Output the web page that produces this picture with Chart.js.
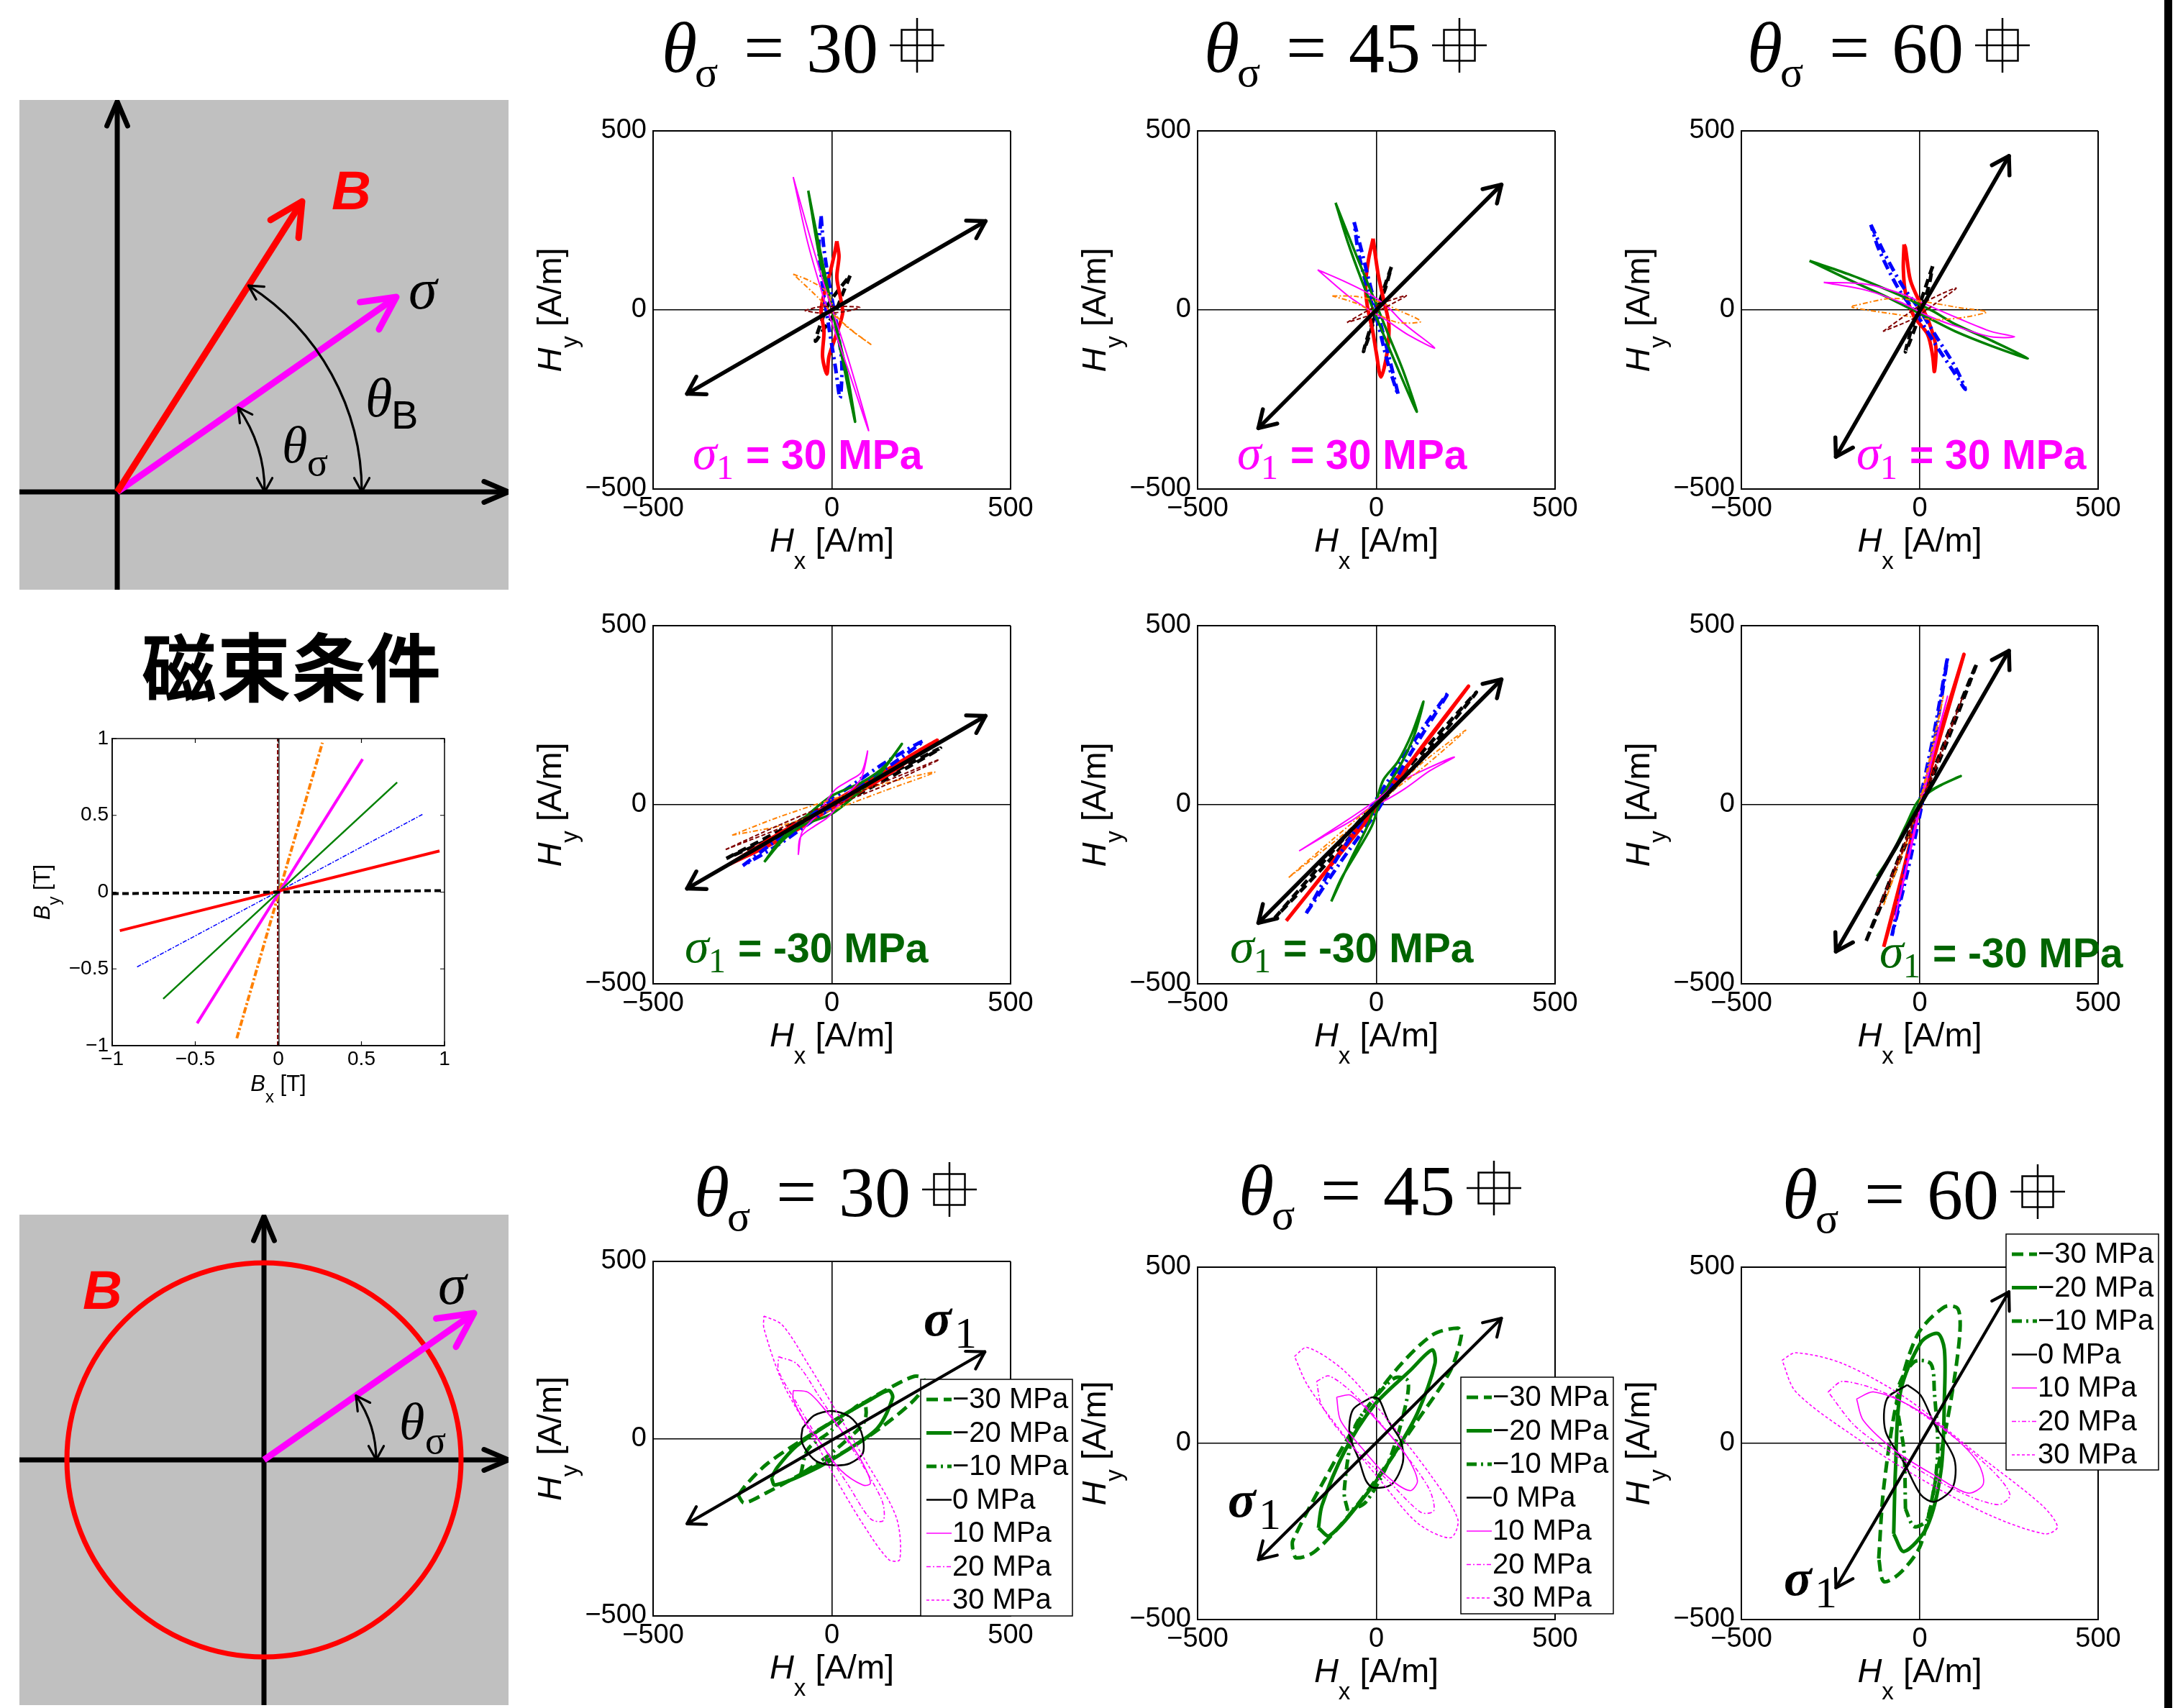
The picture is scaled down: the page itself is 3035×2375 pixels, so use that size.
<!DOCTYPE html>
<html><head><meta charset="utf-8">
<script src="https://cdn.jsdelivr.net/npm/chart.js@4.4.1/dist/chart.umd.min.js"></script>
<style>
html,body{margin:0;padding:0;background:#fff;}
#root{position:relative;width:3035px;height:2375px;overflow:hidden;background:#fff;}
#root canvas{position:absolute;}
#edge{position:absolute;left:3009px;top:0;width:11px;height:2375px;background:#000;}
</style></head>
<body><div id="root"><div id="edge"></div></div>
<script>
// ================= DATA =================
const H_TICKS = [-500, 0, 500];
const B_TICKS = [-1, -0.5, 0, 0.5, 1];
const THETA_SIGMA_LABELS = ['30', '45', '60'];
const THETA_B = [0, 15, 30, 45, 60, 75, 90];
const STRESS_LABELS = ['−30 MPa', '−20 MPa', '−10 MPa', '0 MPa', '10 MPa', '20 MPa', '30 MPa'];
const SIGMA1_TEXT = ['= 30 MPa', '= -30 MPa'];
const FLUX_TITLE = '磁束条件';

// flux-condition chart (Bx, By) [T], one line per thetaB
const B_tb0  = [[-1,-0.01],[1,0.01]];
const B_tb15 = [[-0.954,-0.251],[0.970,0.268]];
const B_tb30 = [[-0.85,-0.487],[0.867,0.506]];
const B_tb45 = [[-0.693,-0.695],[0.715,0.715]];
const B_tb60 = [[-0.489,-0.854],[0.507,0.866]];
const B_tb75 = [[-0.25,-0.952],[0.265,0.973]];
const B_tb90 = [[-0.004,-1],[-0.004,1]];
const B_vert = [[0.004,-1],[0.004,1]];

// schematic 1 (rotating-angle condition), units = diagram px
const D1_axisH = [[0,136],[680,136]];
const D1_axisV = [[136,0],[136,679]];
const D1_B     = [[136,136],[393,540]];
const D1_sigma = [[136,136],[524,407]];
// schematic 2 (rotating flux)
const D2_axisH = [[0,341],[680,341]];
const D2_axisV = [[340,0],[340,680]];
const D2_sigma = [[340,341],[632,545]];

// ---- Row 1: sigma1 = +30 MPa, Hx/Hy [A/m] loops per thetaB ----
const p11_tb0  = [[51,96],[30,45],[10,-5],[-20,-50],[-46,-87],[-30,-35],[-10,15],[22,60],[51,96]];
const p11_tb15 = [[14,192],[20,150],[14,90],[25,30],[30,-10],[12,-70],[-8,-130],[-14,-179],[-26,-130],[-22,-60],[-30,-5],[-24,35],[-6,100],[8,160],[14,192]];
const p11_tb30 = [[-30,262],[-22,170],[-5,60],[15,-50],[28,-150],[23,-246],[10,-160],[-8,-50],[-25,60],[-36,170],[-30,262]];
const p11_tb45 = [[-66,333],[-40,200],[-15,80],[5,-20],[30,-140],[65,-312],[45,-190],[20,-80],[-5,20],[-35,150],[-66,333]];
const p11_tb60 = [[-108,371],[-60,200],[-20,65],[10,-25],[50,-150],[103,-337],[45,-165],[5,-50],[-25,40],[-68,190],[-108,371]];
const p11_tb75 = [[-108,100],[-65,83],[-14,50],[14,-17],[46,-50],[109,-96],[60,-60],[0,-8],[-37,33],[-108,100]];
const p11_tb90 = [[-76,-2],[-40,8],[0,10],[40,10],[78,7],[40,-4],[0,-8],[-40,-8],[-76,-2]];
const p11_arrow = [[-405,-234],[430,248]];

const p12_tb0  = [[42,120],[22,62],[5,10],[-18,-55],[-36,-116],[-16,-60],[0,-5],[25,60],[42,120]];
const p12_tb15 = [[-9,199],[-22,140],[-30,70],[-25,10],[-10,-60],[0,-120],[13,-187],[30,-120],[35,-40],[20,30],[5,100],[-9,199]];
const p12_tb30 = [[-62,245],[-40,160],[-15,60],[15,-50],[40,-150],[61,-237],[30,-140],[5,-40],[-25,60],[-50,160],[-62,245]];
const p12_tb45 = [[-114,299],[-80,190],[-40,80],[0,-20],[50,-140],[113,-284],[75,-170],[30,-60],[-10,40],[-55,150],[-114,299]];
const p12_tb60 = [[-164,112],[-90,80],[-20,45],[30,10],[80,-40],[163,-106],[90,-70],[30,-30],[-20,0],[-80,40],[-164,112]];
const p12_tb75 = [[-123,39],[-60,38],[0,25],[60,0],[124,-32],[60,-35],[0,-10],[-60,20],[-123,39]];
const p12_tb90 = [[-82,-35],[-30,-5],[20,20],[84,40],[30,10],[-20,-15],[-82,-35]];
const p12_arrow = [[-330,-330],[350,350]];

const p13_tb0  = [[36,122],[15,60],[-5,0],[-25,-60],[-40,-117],[-15,-55],[5,5],[25,65],[36,122]];
const p13_tb15 = [[-44,183],[-46,115],[-40,48],[-16,-18],[22,-68],[36,-127],[41,-172],[45,-102],[26,-35],[3,15],[-26,82],[-40,173],[-44,183]];
const p13_tb30 = [[-137,238],[-100,160],[-50,70],[0,0],[50,-80],[100,-160],[128,-222],[90,-165],[40,-90],[-10,-10],[-60,60],[-115,170],[-137,238]];
const p13_tb45 = [[-309,137],[-200,100],[-100,60],[-20,25],[40,-5],[100,-40],[200,-85],[303,-135],[200,-100],[100,-60],[30,-25],[-30,5],[-100,40],[-200,85],[-309,137]];
const p13_tb60 = [[-269,77],[-150,72],[-50,45],[30,10],[100,-20],[200,-60],[266,-75],[200,-75],[100,-45],[20,-15],[-50,20],[-150,55],[-269,77]];
const p13_tb75 = [[-189,11],[-82,32],[12,23],[107,7],[187,-6],[60,-27],[-82,-10],[-189,7],[-189,11]];
const p13_tb90 = [[-103,-60],[-40,-15],[20,25],[102,61],[40,15],[-20,-25],[-103,-60]];
const p13_arrow = [[-235,-410],[250,430]];

// ---- Row 2: sigma1 = -30 MPa ----
const p21_tb0  = [[-295,-150],[-150,-75],[0,2],[150,80],[304,158],[150,70],[0,-8],[-150,-85],[-295,-150]];
const p21_tb15 = [[-286,-166],[-150,-82],[0,5],[150,95],[295,180],[150,80],[0,-10],[-150,-100],[-286,-166]];
const p21_tb30 = [[-249,-170],[-150,-95],[-50,-20],[50,50],[150,118],[256,178],[150,100],[50,28],[-50,-42],[-150,-112],[-249,-170]];
const p21_tb45 = [[-189,-160],[-148,-104],[-83,-42],[0,25],[83,62],[148,108],[196,170],[138,91],[74,33],[0,-25],[-83,-58],[-138,-100],[-189,-160]];
const p21_tb60 = [[-94,-140],[-83,-75],[-46,-33],[9,42],[46,66],[83,91],[100,150],[83,75],[46,33],[-9,-33],[-46,-58],[-88,-91],[-94,-140]];
const p21_tb75 = [[-279,-85],[-150,-35],[0,15],[150,60],[288,91],[150,40],[0,-15],[-150,-60],[-279,-85]];
const p21_tb90 = [[-297,-125],[-150,-58],[0,5],[150,65],[300,126],[150,55],[0,-5],[-150,-68],[-297,-125]];
const p21_arrow = [[-405,-234],[430,248]];

const p22_tb0  = [[-284,-316],[-140,-150],[0,8],[140,160],[280,314],[140,145],[0,-8],[-140,-165],[-284,-316]];
const p22_tb15 = [[-252,-324],[-120,-160],[0,-10],[130,165],[258,331],[120,150],[0,5],[-130,-170],[-252,-324]];
const p22_tb30 = [[-196,-303],[-100,-160],[0,-20],[100,150],[202,314],[90,155],[-10,0],[-110,-150],[-196,-303]];
const p22_tb45 = [[-126,-270],[-99,-208],[-50,-125],[-12,-58],[17,25],[66,108],[105,191],[132,288],[100,200],[60,120],[20,70],[0,10],[-25,-60],[-70,-150],[-126,-270]];
const p22_tb60 = [[-216,-129],[-150,-90],[-70,-45],[-20,-10],[30,15],[80,45],[150,95],[218,133],[140,100],[60,60],[10,20],[-40,-15],[-100,-55],[-170,-100],[-216,-129]];
const p22_tb75 = [[-245,-203],[-120,-105],[0,-5],[120,110],[250,208],[120,95],[0,5],[-120,-95],[-245,-203]];
const p22_tb90 = [[-240,-240],[-120,-118],[0,0],[120,122],[240,240],[120,115],[0,-5],[-120,-125],[-240,-240]];
const p22_arrow = [[-330,-330],[350,350]];

const p23_tb0  = [[-150,-380],[-75,-190],[0,0],[80,200],[160,395],[80,185],[0,-10],[-75,-200],[-150,-380]];
const p23_tb15 = [[-101,-397],[-50,-200],[0,0],[60,210],[124,420],[60,200],[0,-10],[-50,-210],[-101,-397]];
const p23_tb30 = [[-78,-366],[-40,-180],[0,10],[40,200],[78,412],[45,200],[5,-5],[-35,-190],[-78,-366]];
const p23_tb45 = [[-120,-200],[-80,-140],[-40,-60],[-5,10],[40,45],[115,80],[60,55],[15,25],[-25,-40],[-65,-120],[-120,-200]];
const p23_tb60 = [[-70,-320],[-35,-160],[0,0],[40,160],[78,303],[40,150],[0,-15],[-35,-170],[-70,-320]];
const p23_tb75 = [[-101,-280],[-50,-140],[0,0],[35,150],[66,303],[30,140],[-5,-10],[-55,-150],[-101,-280]];
const p23_tb90 = [[-120,-300],[-60,-150],[0,0],[60,150],[120,300],[60,140],[0,-10],[-60,-160],[-120,-300]];
const p23_arrow = [[-235,-410],[250,430]];

// ---- Row 3: loops per stress (−30 … 30 MPa) ----
const p31_m30 = [[-262,-160],[-240,-130],[-180,-70],[-77,0],[46,75],[149,136],[231,176],[257,168],[240,120],[149,40],[46,-30],[-77,-95],[-180,-151],[-245,-181],[-262,-160]];
const p31_m20 = [[-169,-110],[-152,-80],[-98,-20],[5,50],[108,110],[159,136],[170,115],[128,30],[46,-30],[-56,-90],[-159,-131],[-169,-110]];
const p31_m10 = [[-87,-100],[-67,-30],[-5,20],[67,90],[92,100],[92,50],[46,0],[-26,-60],[-87,-100]];
const p31_z0  = [[-82,30],[-50,65],[0,78],[50,62],[82,20],[87,-40],[50,-70],[5,-75],[-40,-65],[-67,-40],[-85,-5],[-82,30]];
const p31_p10 = [[-108,136],[-67,131],[-26,90],[36,10],[87,-70],[108,-126],[87,-131],[26,-90],[-26,-20],[-77,50],[-108,111],[-108,136]];
const p31_p20 = [[-149,231],[-98,211],[-36,120],[46,-10],[139,-171],[144,-231],[108,-226],[46,-131],[-26,-20],[-98,100],[-149,191],[-149,231]];
const p31_p30 = [[-190,346],[-139,321],[-67,211],[5,90],[87,-50],[180,-221],[190,-341],[159,-341],[87,-241],[15,-120],[-56,10],[-139,161],[-190,311],[-190,346]];
const p31_arrow = [[-405,-240],[428,245]];

const p32_m30 = [[-234,-300],[-234,-277],[-152,-116],[-49,65],[53,206],[156,307],[228,327],[238,307],[207,206],[115,65],[33,-55],[-70,-196],[-172,-307],[-224,-325],[-234,-300]];
const p32_m20 = [[-162,-240],[-152,-176],[-90,-25],[-8,106],[94,206],[156,265],[164,226],[115,86],[53,-25],[-29,-146],[-131,-262],[-162,-240]];
const p32_m10 = [[-80,-191],[-90,-136],[-60,45],[2,136],[53,186],[89,176],[74,75],[33,-55],[-29,-166],[-75,-191],[-80,-191]];
const p32_z0  = [[-13,131],[7,126],[33,65],[69,5],[74,-55],[43,-116],[-8,-126],[-29,-106],[-49,-45],[-75,25],[-65,96],[-13,131]];
const p32_p10 = [[-111,131],[-70,136],[2,65],[84,-35],[115,-106],[94,-134],[33,-96],[-39,-15],[-100,65],[-111,131]];
const p32_p20 = [[-167,176],[-131,191],[-49,126],[53,5],[146,-126],[161,-191],[125,-196],[33,-106],[-70,-5],[-152,106],[-167,176]];
const p32_p30 = [[-229,247],[-193,272],[-90,206],[33,65],[156,-96],[228,-216],[207,-268],[115,-226],[12,-106],[-100,35],[-193,166],[-229,247]];
const p32_arrow = [[-330,-330],[350,355]];

const p33_m30 = [[-115,-327],[-101,-126],[-63,126],[-7,307],[69,387],[107,382],[112,307],[88,126],[50,-75],[3,-287],[-54,-367],[-101,-392],[-115,-327]];
const p33_m20 = [[-73,-257],[-68,-75],[-54,146],[3,286],[50,312],[69,267],[69,126],[60,-75],[21,-236],[-44,-307],[-73,-257]];
const p33_m10 = [[-40,-186],[-44,-25],[-63,146],[-16,231],[31,226],[41,146],[50,-35],[21,-216],[-16,-236],[-40,-186]];
const p33_z0  = [[-35,166],[3,136],[41,55],[97,-45],[92,-126],[41,-166],[3,-146],[-44,-55],[-96,35],[-92,126],[-35,166]];
const p33_p10 = [[-177,126],[-129,146],[-26,106],[88,25],[163,-55],[178,-116],[135,-141],[50,-96],[-63,-25],[-158,65],[-177,126]];
const p33_p20 = [[-257,146],[-215,176],[-82,136],[60,45],[201,-75],[253,-146],[220,-174],[107,-136],[-35,-55],[-177,45],[-257,146]];
const p33_p30 = [[-386,236],[-347,257],[-215,226],[-35,126],[154,-25],[343,-176],[386,-237],[352,-257],[201,-206],[12,-106],[-177,15],[-347,146],[-386,236]];
const p33_arrow = [[-235,-410],[250,430]];

// ================= STYLES =================
const TB_STYLE = {
  0:  {color:'#000000', width:5,   dash:[12,7]},
  15: {color:'#ff0000', width:5,   dash:[]},
  30: {color:'#0000ff', width:5,   dash:[14,6,3,6]},
  45: {color:'#008000', width:3.5, dash:[]},
  60: {color:'#ff00ff', width:2,   dash:[]},
  75: {color:'#ff8000', width:2,   dash:[7,3,2,3]},
  90: {color:'#800000', width:2,   dash:[6,3]}
};
const ST_STYLE = [
  {color:'#008000', width:5,   dash:[16,8]},
  {color:'#008000', width:5,   dash:[]},
  {color:'#008000', width:5,   dash:[14,6,3,6]},
  {color:'#000000', width:2.5, dash:[]},
  {color:'#ff00ff', width:1.6, dash:[]},
  {color:'#ff00ff', width:1.6, dash:[6,3,2,3]},
  {color:'#ff00ff', width:1.6, dash:[4,3]}
];
const SANS = '"Liberation Sans", Arial, sans-serif';
const SERIF = '"Liberation Serif", "Times New Roman", serif';

// ================= HELPERS =================
const root = document.getElementById('root');
function mkCanvas(x,y,w,h){
  const c=document.createElement('canvas'); c.width=w; c.height=h;
  c.style.left=x+'px'; c.style.top=y+'px'; c.style.width=w+'px'; c.style.height=h+'px';
  root.appendChild(c); return c;
}
function pts(a){ return a.map(p=>({x:p[0], y:p[1]})); }
function lineDS(arr, st, extra){
  return Object.assign({data:pts(arr), showLine:true, pointRadius:0, pointHoverRadius:0,
    borderColor:st.color, backgroundColor:st.color, borderWidth:st.width, borderDash:st.dash,
    tension:0.3, borderCapStyle:'butt', borderJoinStyle:'round', fill:false}, extra||{});
}
function chevron(ctx,tx,ty,dx,dy,len,ang){
  const bx=-dx, by=-dy, c=Math.cos(ang), s=Math.sin(ang);
  const ax1=bx*c-by*s, ay1=bx*s+by*c, ax2=bx*c+by*s, ay2=-bx*s+by*c;
  ctx.beginPath(); ctx.moveTo(tx+ax1*len, ty+ay1*len); ctx.lineTo(tx,ty); ctx.lineTo(tx+ax2*len, ty+ay2*len); ctx.stroke();
}
function textRun(ctx,parts,x,y,align){
  let w=0; for(const p of parts){ ctx.font=p.f; p.w=ctx.measureText(p.t).width; w+=p.w; }
  let cx = align==='center' ? x-w/2 : x;
  for(const p of parts){ ctx.font=p.f; ctx.fillText(p.t, cx, y+(p.dy||0)); cx+=p.w; }
}
function fmtH(v){ return v<0 ? '−'+(-v) : String(v); }
function fmtB(v){ return (v<0?'−':'') + String(Math.abs(v)); }
function drawArrowHeads(chart){
  const ctx=chart.ctx;
  chart.data.datasets.forEach((ds,i)=>{
    if(!ds.isArrow) return;
    const m=chart.getDatasetMeta(i).data; const a=m[0], b=m[m.length-1];
    const dx=b.x-a.x, dy=b.y-a.y, L=Math.hypot(dx,dy);
    ctx.save(); ctx.strokeStyle=ds.borderColor; ctx.lineWidth=ds.borderWidth; ctx.lineCap='round'; ctx.lineJoin='round'; ctx.setLineDash([]);
    chevron(ctx,b.x,b.y,dx/L,dy/L,ds.headLen,ds.headAng);
    if(ds.doubleHead) chevron(ctx,a.x,a.y,-dx/L,-dy/L,ds.headLen,ds.headAng);
    ctx.restore();
  });
}

// ================= H PANELS =================
function drawLegend(ctx,x,y,w,h){
  ctx.save();
  ctx.fillStyle='#fff'; ctx.fillRect(x,y,w,h);
  ctx.strokeStyle='#000'; ctx.lineWidth=1.5; ctx.setLineDash([]); ctx.strokeRect(x,y,w,h);
  STRESS_LABELS.forEach((lab,i)=>{
    const cy=y+28+i*46.5, st=ST_STYLE[i];
    ctx.beginPath(); ctx.setLineDash(st.dash); ctx.lineWidth=st.width; ctx.strokeStyle=st.color;
    ctx.moveTo(x+8,cy); ctx.lineTo(x+43,cy); ctx.stroke(); ctx.setLineDash([]);
    ctx.fillStyle='#000'; ctx.font='40px '+SANS; ctx.textBaseline='middle'; ctx.textAlign='left';
    ctx.fillText(lab, x+44, cy+1);
  });
  ctx.restore();
}
function drawPanelTitle(ctx,x0,base,num){
  ctx.save(); ctx.fillStyle='#000'; ctx.textAlign='left'; ctx.textBaseline='alphabetic';
  ctx.font='italic 100px '+SERIF; ctx.fillText('θ', x0-2, base);
  ctx.font='60px '+SERIF; ctx.fillText('σ', x0+44, base+20);
  ctx.font='100px '+SERIF; ctx.fillText('=', x0+112, base); ctx.fillText(num, x0+199, base);
  const gx=x0+353, gy=base-37; ctx.strokeStyle='#000'; ctx.lineWidth=2.5;
  ctx.strokeRect(gx-21.5, gy-21.5, 43, 43);
  ctx.beginPath(); ctx.moveTo(gx-38,gy); ctx.lineTo(gx+38,gy); ctx.moveTo(gx,gy-38); ctx.lineTo(gx,gy+38); ctx.stroke();
  ctx.restore();
}
function hDeco(cfg, ox, oy){
  return {
    id:'hdeco',
    beforeDatasetDraw(chart,args){
      if(args.index===0 && cfg.legend) drawLegend(chart.ctx, cfg.legend.x-ox, cfg.legend.y-oy, cfg.legend.w, cfg.legend.h);
    },
    afterDatasetsDraw(chart){ drawArrowHeads(chart); },
    afterDraw(chart){
      const ctx=chart.ctx, ca=chart.chartArea;
      ctx.save(); ctx.fillStyle='#000'; ctx.textAlign='left'; ctx.textBaseline='alphabetic';
      const cx=(ca.left+ca.right)/2, cy=(ca.top+ca.bottom)/2;
      textRun(ctx,[{t:'H',f:'italic 47px '+SANS},{t:'x',f:'33px '+SANS,dy:24},{t:' [A/m]',f:'47px '+SANS}], cx, ca.bottom+87, 'center');
      ctx.translate(ca.left-128, cy); ctx.rotate(-Math.PI/2);
      textRun(ctx,[{t:'H',f:'italic 47px '+SANS},{t:'y',f:'33px '+SANS,dy:23},{t:' [A/m]',f:'47px '+SANS}], 0, 0, 'center');
      ctx.restore();
      if(cfg.title) drawPanelTitle(ctx, cfg.title.x-ox, cfg.title.base-oy, cfg.title.num);
      if(cfg.sig){
        const x=cfg.sig.x-ox, b=cfg.sig.base-oy;
        ctx.save(); ctx.fillStyle=cfg.sig.color; ctx.textAlign='left'; ctx.textBaseline='alphabetic';
        ctx.font='italic 68px '+SERIF; ctx.fillText('σ', x, b);
        ctx.font='48px '+SERIF; ctx.fillText('1', x+33, b+14);
        ctx.font='bold 57px '+SANS; ctx.fillText(cfg.sig.text, x+74, b);
        ctx.restore();
      }
      if(cfg.s1){
        const x=cfg.s1.x-ox, b=cfg.s1.base-oy;
        ctx.save(); ctx.fillStyle='#000'; ctx.textAlign='left'; ctx.textBaseline='alphabetic';
        ctx.font='bold italic 72px '+SERIF; ctx.fillText('σ', x, b);
        ctx.font='62px '+SERIF; ctx.fillText('1', x+43, b+17);
        ctx.restore();
      }
    }
  };
}
function hPanel(cfg){
  const PL=200, PT=200, PR=150, PB=150;
  const W=cfg.R-cfg.L+PL+PR, H=cfg.B-cfg.T+PT+PB;
  const ox=cfg.L-PL, oy=cfg.T-PT;
  const cv=mkCanvas(ox,oy,W,H);
  const tickFont={family:SANS, size:38};
  const mkAxis=(pos)=>({
    type:'linear', position:pos, min:-500, max:500,
    afterBuildTicks:a=>{ a.ticks=H_TICKS.map(v=>({value:v})); },
    grid:{color:'#000', lineWidth:c=>(c.tick && c.tick.value===0)?1.6:2, drawTicks:false},
    border:{display:true, color:'#000', width:2},
    ticks:{font:tickFont, color:'#000', padding:pos==='left'?9:5, autoSkip:false, maxRotation:0, minRotation:0, callback:fmtH},
    afterFit:a=>{ if(pos==='left') a.width=PL; else a.height=PB; }
  });
  new Chart(cv,{type:'scatter', data:{datasets:cfg.datasets}, options:{
    responsive:false, animation:false, devicePixelRatio:1, events:[],
    layout:{padding:{left:0, top:PT, right:PR, bottom:0}},
    scales:{x:mkAxis('bottom'), y:mkAxis('left')},
    plugins:{legend:{display:false}, tooltip:{enabled:false}}
  }, plugins:[hDeco(cfg,ox,oy)]});
}
function tbDatasets(series, arrow){
  const ds=[lineDS(arrow,{color:'#000',width:5.5,dash:[]},{tension:0,isArrow:true,doubleHead:true,headLen:27,headAng:0.55,borderCapStyle:'round'})];
  const list=series.map((s,i)=>lineDS(s, TB_STYLE[THETA_B[i]]));
  return ds.concat(list.reverse());
}
function stDatasets(series, arrow){
  const ds=[lineDS(arrow,{color:'#000',width:4.2,dash:[]},{tension:0,isArrow:true,doubleHead:true,headLen:27,headAng:0.55,borderCapStyle:'round'})];
  const list=series.map((s,i)=>lineDS(s, ST_STYLE[i], {label:STRESS_LABELS[i]}));
  return ds.concat(list.reverse());
}

const MAG='#ff00ff', DKG='#006400';
hPanel({L:908,T:182,R:1405,B:680, title:{x:922,base:100,num:THETA_SIGMA_LABELS[0]}, sig:{x:963,base:652,text:SIGMA1_TEXT[0],color:MAG},
  datasets:tbDatasets([p11_tb0,p11_tb15,p11_tb30,p11_tb45,p11_tb60,p11_tb75,p11_tb90], p11_arrow)});
hPanel({L:1665,T:182,R:2162,B:680, title:{x:1676,base:100,num:THETA_SIGMA_LABELS[1]}, sig:{x:1720,base:652,text:SIGMA1_TEXT[0],color:MAG},
  datasets:tbDatasets([p12_tb0,p12_tb15,p12_tb30,p12_tb45,p12_tb60,p12_tb75,p12_tb90], p12_arrow)});
hPanel({L:2421,T:182,R:2917,B:680, title:{x:2431,base:100,num:THETA_SIGMA_LABELS[2]}, sig:{x:2581,base:652,text:SIGMA1_TEXT[0],color:MAG},
  datasets:tbDatasets([p13_tb0,p13_tb15,p13_tb30,p13_tb45,p13_tb60,p13_tb75,p13_tb90], p13_arrow)});
hPanel({L:908,T:870,R:1405,B:1368, sig:{x:952,base:1338,text:SIGMA1_TEXT[1],color:DKG},
  datasets:tbDatasets([p21_tb0,p21_tb15,p21_tb30,p21_tb45,p21_tb60,p21_tb75,p21_tb90], p21_arrow)});
hPanel({L:1665,T:870,R:2162,B:1368, sig:{x:1710,base:1338,text:SIGMA1_TEXT[1],color:DKG},
  datasets:tbDatasets([p22_tb0,p22_tb15,p22_tb30,p22_tb45,p22_tb60,p22_tb75,p22_tb90], p22_arrow)});
hPanel({L:2421,T:870,R:2917,B:1368, sig:{x:2613,base:1345,text:SIGMA1_TEXT[1],color:DKG},
  datasets:tbDatasets([p23_tb0,p23_tb15,p23_tb30,p23_tb45,p23_tb60,p23_tb75,p23_tb90], p23_arrow)});
hPanel({L:908,T:1754,R:1405,B:2247, title:{x:967,base:1691,num:THETA_SIGMA_LABELS[0]}, legend:{x:1280,y:1918,w:211,h:329}, s1:{x:1284,base:1857},
  datasets:stDatasets([p31_m30,p31_m20,p31_m10,p31_z0,p31_p10,p31_p20,p31_p30], p31_arrow)});
hPanel({L:1665,T:1762,R:2162,B:2252, title:{x:1724,base:1689,num:THETA_SIGMA_LABELS[1]}, legend:{x:2031,y:1915,w:212,h:329}, s1:{x:1707,base:2109},
  datasets:stDatasets([p32_m30,p32_m20,p32_m10,p32_z0,p32_p10,p32_p20,p32_p30], p32_arrow)});
hPanel({L:2421,T:1762,R:2917,B:2252, title:{x:2480,base:1694,num:THETA_SIGMA_LABELS[2]}, legend:{x:2789,y:1716,w:212,h:328}, s1:{x:2480,base:2218},
  datasets:stDatasets([p33_m30,p33_m20,p33_m10,p33_z0,p33_p10,p33_p20,p33_p30], p33_arrow)});

// ================= FLUX CONDITION CHART =================
(function(){
  const ox=0, oy=850, W=660, H=710, PT=177, PR=42, PL=156, PB=106;
  const cv=mkCanvas(ox,oy,W,H);
  const datasets=[
    lineDS(B_tb0, {color:'#000000',width:4,dash:[9,5]},{tension:0}),
    lineDS(B_tb15,{color:'#ff0000',width:4,dash:[]},{tension:0}),
    lineDS(B_tb30,{color:'#0000ff',width:1.5,dash:[6,2,2,2]},{tension:0}),
    lineDS(B_tb45,{color:'#008000',width:2.5,dash:[]},{tension:0}),
    lineDS(B_tb60,{color:'#ff00ff',width:4,dash:[]},{tension:0}),
    lineDS(B_tb75,{color:'#ff8000',width:4,dash:[9,3,3,3]},{tension:0}),
    lineDS(B_tb90,{color:'#800000',width:2,dash:[6,3]},{tension:0}),
    lineDS(B_vert,{color:'#000000',width:1.2,dash:[]},{tension:0})
  ];
  const tickFont={family:SANS,size:28};
  const mkAxis=(pos)=>({
    type:'linear', position:pos, min:-1, max:1,
    afterBuildTicks:a=>{ a.ticks=B_TICKS.map(v=>({value:v})); },
    grid:{display:false, drawTicks:false},
    border:{display:true,color:'#000',width:1.5},
    ticks:{font:tickFont,color:'#000',padding:pos==='left'?5:2,autoSkip:false,maxRotation:0,minRotation:0,callback:fmtB},
    afterFit:a=>{ if(pos==='left') a.width=PL; else a.height=PB; }
  });
  new Chart(cv,{type:'scatter',data:{datasets},options:{
    responsive:false,animation:false,devicePixelRatio:1,events:[],
    layout:{padding:{left:0,top:PT,right:PR,bottom:0}},
    scales:{x:mkAxis('bottom'),y:mkAxis('left')},
    plugins:{legend:{display:false},tooltip:{enabled:false}}
  },plugins:[{id:'bdeco',afterDraw(chart){
    const ctx=chart.ctx, ca=chart.chartArea, xs=chart.scales.x, ys=chart.scales.y;
    ctx.save(); ctx.strokeStyle='#000'; ctx.lineWidth=1.5; ctx.strokeRect(ca.left,ca.top,ca.right-ca.left,ca.bottom-ca.top);
    ctx.lineWidth=1.2;
    B_TICKS.forEach(v=>{ const px=xs.getPixelForValue(v), py=ys.getPixelForValue(v);
      ctx.beginPath(); ctx.moveTo(px,ca.bottom); ctx.lineTo(px,ca.bottom-6); ctx.moveTo(px,ca.top); ctx.lineTo(px,ca.top+6);
      ctx.moveTo(ca.left,py); ctx.lineTo(ca.left+6,py); ctx.moveTo(ca.right,py); ctx.lineTo(ca.right-6,py); ctx.stroke(); });
    ctx.fillStyle='#000'; ctx.textAlign='left'; ctx.textBaseline='alphabetic';
    textRun(ctx,[{t:'B',f:'italic 31px '+SANS},{t:'x',f:'24px '+SANS,dy:16},{t:' [T]',f:'31px '+SANS}], (ca.left+ca.right)/2, 1517-oy, 'center');
    ctx.save(); ctx.translate(69, (ca.top+ca.bottom)/2); ctx.rotate(-Math.PI/2);
    textRun(ctx,[{t:'B',f:'italic 31px '+SANS},{t:'y',f:'24px '+SANS,dy:14},{t:' [T]',f:'31px '+SANS}], 0, 0, 'center');
    ctx.restore();
    ctx.font='bold 104px "Noto Sans CJK JP", sans-serif'; ctx.textAlign='center';
    ctx.fillText(FLUX_TITLE, 405, 968-oy);
    ctx.restore();
  }}]});
})();

// ================= SCHEMATICS =================
function diagram(px,py,w,h,datasets,deco){
  const cv=mkCanvas(px,py,w,h);
  new Chart(cv,{type:'scatter',data:{datasets},options:{
    responsive:false,animation:false,devicePixelRatio:1,events:[],
    layout:{padding:0},
    scales:{x:{type:'linear',display:false,min:0,max:w},y:{type:'linear',display:false,min:0,max:h}},
    plugins:{legend:{display:false},tooltip:{enabled:false}}
  },plugins:[deco]});
}
function arcArrow(ctx,ox,oy,r,ang){
  ctx.save(); ctx.strokeStyle='#000'; ctx.lineWidth=3.2; ctx.lineCap='round'; ctx.lineJoin='round';
  ctx.beginPath(); ctx.arc(ox,oy,r,-ang,0); ctx.stroke();
  chevron(ctx,ox+r,oy,0,1,22,0.5);
  chevron(ctx,ox+r*Math.cos(ang),oy-r*Math.sin(ang),-Math.sin(ang),-Math.cos(ang),22,0.5);
  ctx.restore();
}
function angleOf(v){ return Math.atan2(v[1][1]-v[0][1], v[1][0]-v[0][0]); }
const vecOpt=(len,ang)=>({tension:0,isArrow:true,doubleHead:false,headLen:len,headAng:ang});

// top schematic
(function(){
  const px=27, py=139, w=680, h=681;
  const ds=[
    lineDS(D1_B,{color:'#ff0000',width:9,dash:[]},vecOpt(51,0.47)),
    lineDS(D1_sigma,{color:'#ff00ff',width:9,dash:[]},vecOpt(51,0.47)),
    lineDS(D1_axisH,{color:'#000',width:7,dash:[]},vecOpt(37,0.4)),
    lineDS(D1_axisV,{color:'#000',width:7,dash:[]},vecOpt(37,0.4))
  ];
  diagram(px,py,w,h,ds,{id:'d1',
    beforeDraw(chart){ const c=chart.ctx; c.save(); c.fillStyle='#c0c0c0'; c.fillRect(0,0,chart.width,chart.height); c.restore(); },
    afterDatasetsDraw(chart){
      drawArrowHeads(chart);
      const ctx=chart.ctx, xs=chart.scales.x, ys=chart.scales.y;
      const ox=xs.getPixelForValue(D1_B[0][0]), oy=ys.getPixelForValue(D1_B[0][1]);
      arcArrow(ctx,ox,oy,205,angleOf(D1_sigma));
      arcArrow(ctx,ox,oy,340,angleOf(D1_B));
    },
    afterDraw(chart){
      const ctx=chart.ctx; ctx.save(); ctx.textAlign='left'; ctx.textBaseline='alphabetic';
      ctx.fillStyle='#ff0000'; ctx.font='bold italic 76px '+SANS; ctx.fillText('B',461-px,291-py);
      ctx.fillStyle='#000'; ctx.font='italic 80px '+SERIF; ctx.fillText('σ',568-px,429-py);
      ctx.font='italic 76px '+SERIF; ctx.fillText('θ',508-px,579-py);
      ctx.font='56px '+SANS; ctx.fillText('B',544-px,596-py);
      ctx.font='italic 72px '+SERIF; ctx.fillText('θ',392-px,643-py);
      ctx.font='54px '+SERIF; ctx.fillText('σ',427-px,661-py);
      ctx.restore();
    }});
})();

// bottom schematic
(function(){
  const px=27, py=1689, w=680, h=682;
  const ds=[
    lineDS(D2_sigma,{color:'#ff00ff',width:9,dash:[]},vecOpt(53,0.47)),
    lineDS(D2_axisH,{color:'#000',width:7,dash:[]},vecOpt(37,0.4)),
    lineDS(D2_axisV,{color:'#000',width:7,dash:[]},vecOpt(37,0.4))
  ];
  diagram(px,py,w,h,ds,{id:'d2',
    beforeDraw(chart){ const c=chart.ctx; c.save(); c.fillStyle='#c0c0c0'; c.fillRect(0,0,chart.width,chart.height); c.restore(); },
    beforeDatasetDraw(chart,args){
      if(args.index!==0) return;
      const ctx=chart.ctx, xs=chart.scales.x, ys=chart.scales.y;
      const ox=xs.getPixelForValue(D2_sigma[0][0]), oy=ys.getPixelForValue(D2_sigma[0][1]);
      ctx.save(); ctx.strokeStyle='#ff0000'; ctx.lineWidth=7; ctx.beginPath(); ctx.arc(ox,oy,274,0,Math.PI*2); ctx.stroke(); ctx.restore();
    },
    afterDatasetsDraw(chart){
      drawArrowHeads(chart);
      const ctx=chart.ctx, xs=chart.scales.x, ys=chart.scales.y;
      const ox=xs.getPixelForValue(D2_sigma[0][0]), oy=ys.getPixelForValue(D2_sigma[0][1]);
      arcArrow(ctx,ox,oy,156,angleOf(D2_sigma));
    },
    afterDraw(chart){
      const ctx=chart.ctx; ctx.save(); ctx.textAlign='left'; ctx.textBaseline='alphabetic';
      ctx.fillStyle='#ff0000'; ctx.font='bold italic 76px '+SANS; ctx.fillText('B',115-px,1820-py);
      ctx.fillStyle='#000'; ctx.font='italic 80px '+SERIF; ctx.fillText('σ',609-px,1813-py);
      ctx.font='italic 72px '+SERIF; ctx.fillText('θ',555-px,2001-py);
      ctx.font='54px '+SERIF; ctx.fillText('σ',591-px,2021-py);
      ctx.restore();
    }});
})();
</script>
</body></html>
